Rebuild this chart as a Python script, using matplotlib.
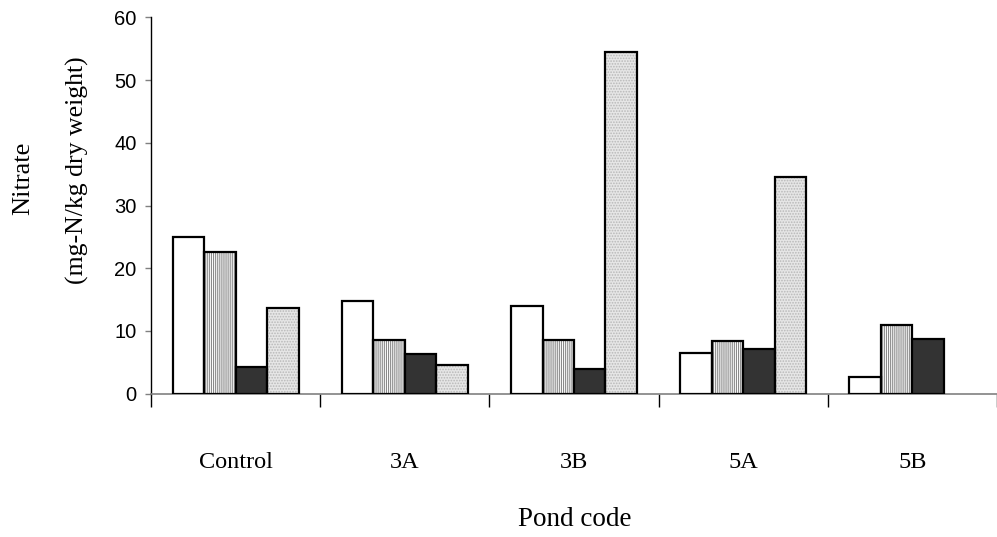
import matplotlib
matplotlib.use("Agg")
import matplotlib.pyplot as plt
import matplotlib.transforms as mtransforms
import numpy as np

categories = ["Control", "3A", "3B", "5A", "5B"]
series_1 = [24.9, 14.7, 14.0, 6.5, 2.7]
series_2 = [22.6, 8.6, 8.6, 8.4, 11.0]
series_3 = [4.2, 6.3, 3.9, 7.1, 8.7]
series_4 = [13.7, 4.5, 54.5, 34.5, np.nan]
y_ticks = [0, 10, 20, 30, 40, 50, 60]

plt.rcParams['hatch.linewidth'] = 0.8

fig = plt.figure(figsize=(9.97, 5.37), dpi=100)
ax = fig.add_axes([151/997, 1-393.7/537, 1-151/997, (393.7-17.3)/537])

n = len(categories)
centers = np.arange(n) + 0.5
w = 0.186
styles = [
    dict(facecolor="white", hatch=None, hcolor=None),
    dict(facecolor="white", hatch="||||||||", hcolor="#8a8a8a"),
    dict(facecolor="#333333", hatch=None, hcolor=None),
    dict(facecolor="#e6e6e6", hatch="......", hcolor="#b8b8b8"),
]
all_series = [series_1, series_2, series_3, series_4]
for j, (vals, st) in enumerate(zip(all_series, styles)):
    x = centers + (j - 1.5) * w
    v = np.array(vals, dtype=float)
    mask = ~np.isnan(v)
    if st["hatch"]:
        ax.bar(x[mask], v[mask], width=w, facecolor=st["facecolor"],
               edgecolor=st["hcolor"], hatch=st["hatch"], linewidth=0, zorder=2)
        ax.bar(x[mask], v[mask], width=w, facecolor="none",
               edgecolor="black", linewidth=1.6, zorder=3)
    else:
        ax.bar(x[mask], v[mask], width=w, facecolor=st["facecolor"],
               edgecolor="black", linewidth=1.6, zorder=3)

ax.set_xlim(0, n)
ax.set_ylim(0, 60)
ax.set_yticks(y_ticks)
ax.set_yticklabels([str(t) for t in y_ticks], fontsize=14.5, family="Liberation Sans")
ax.tick_params(axis="y", length=4.5, width=1, color="#808080", pad=6)

ax.set_xticks(np.arange(n + 1))
ax.set_xticklabels([])
ax.tick_params(axis="x", which="major", length=9.5, width=1, color="black", direction="out")

# category labels below the axis
trans = mtransforms.blended_transform_factory(ax.transData, fig.transFigure)
for c, name in zip(centers, categories):
    ax.text(c, 1 - 463/537, name, transform=trans, ha="center", va="center",
            fontsize=17.5, family="Liberation Serif")

for s in ["top", "right"]:
    ax.spines[s].set_visible(False)
ax.spines["left"].set_color("black")
ax.spines["left"].set_linewidth(1)
ax.spines["bottom"].set_color("#808080")
ax.spines["bottom"].set_linewidth(1.2)

fig.text(575/997, 1 - 519/537, "Pond code", ha="center", va="center",
         fontsize=19.5, family="Liberation Serif")
fig.text(23/997, 1 - 178/537, "Nitrate", rotation=90, ha="center", va="center",
         fontsize=19, family="Liberation Serif")
fig.text(77/997, 1 - 170/537, "(mg-N/kg dry weight)", rotation=90, ha="center", va="center",
         fontsize=18.5, family="Liberation Serif")

fig.savefig("out.png", dpi=100)
